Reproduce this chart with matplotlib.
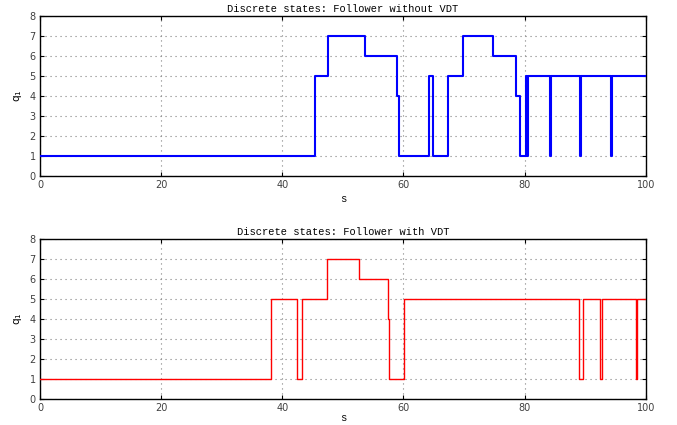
import numpy as np
import matplotlib.pyplot as plt

# switching times and discrete states (step-post)
t_no_vdt = [0, 45.4, 47.5, 53.6, 58.9, 59.2, 64.2, 64.9, 67.3, 69.9, 74.7, 78.5,
            79.3, 80.2, 80.4, 80.6, 84.1, 84.3, 89.1, 89.3, 94.2, 94.4, 100]
q_no_vdt = [1, 5, 7, 6, 4, 1, 5, 1, 5, 7, 6, 4,
            1, 5, 1, 5, 1, 5, 1, 5, 1, 5, 5]

t_vdt = [0, 38.1, 42.5, 43.3, 47.3, 52.7, 57.4, 57.6, 60.1, 89.0, 89.6,
         92.5, 92.7, 98.4, 98.6, 100]
q_vdt = [1, 5, 1, 5, 7, 6, 4, 1, 5, 1, 5,
         1, 5, 1, 5, 5]

titles = ['Discrete states: Follower without VDT', 'Discrete states: Follower with VDT']

fig = plt.figure(figsize=(6.77, 4.25), dpi=100)
ax1 = fig.add_axes([0.059, 0.586, 0.895, 0.376])
ax2 = fig.add_axes([0.059, 0.061, 0.895, 0.377])

series = [(ax1, t_no_vdt, q_no_vdt, '#0000ff', 1.5, 3),
          (ax2, t_vdt, q_vdt, '#ff0000', 1.0, 0)]

for i, (ax, t, q, col, lw, lp) in enumerate(series):
    ax.plot(t, q, drawstyle='steps-post', color=col, linewidth=lw, zorder=3)
    ax.set_xlim(0, 100)
    ax.set_ylim(0, 8)
    ax.set_xticks(np.arange(0, 101, 20))
    ax.set_yticks(np.arange(0, 9, 1))
    ax.tick_params(direction='in', top=True, right=True, labelsize=7,
                   length=3, pad=3, labelcolor='0.25')
    ax.grid(linestyle=(0, (1, 3.5)), color='0.5', linewidth=0.8)
    ax.set_title(titles[i], family='Liberation Mono', fontsize=7.5, pad=3)
    ax.set_xlabel('s', family='Liberation Mono', fontsize=7.5, labelpad=lp)
    ax.set_ylabel('q$_1$', fontsize=7.5, labelpad=4)
    for sp in ax.spines.values():
        sp.set_linewidth(1.0)

fig.savefig('out.png', dpi=100)
